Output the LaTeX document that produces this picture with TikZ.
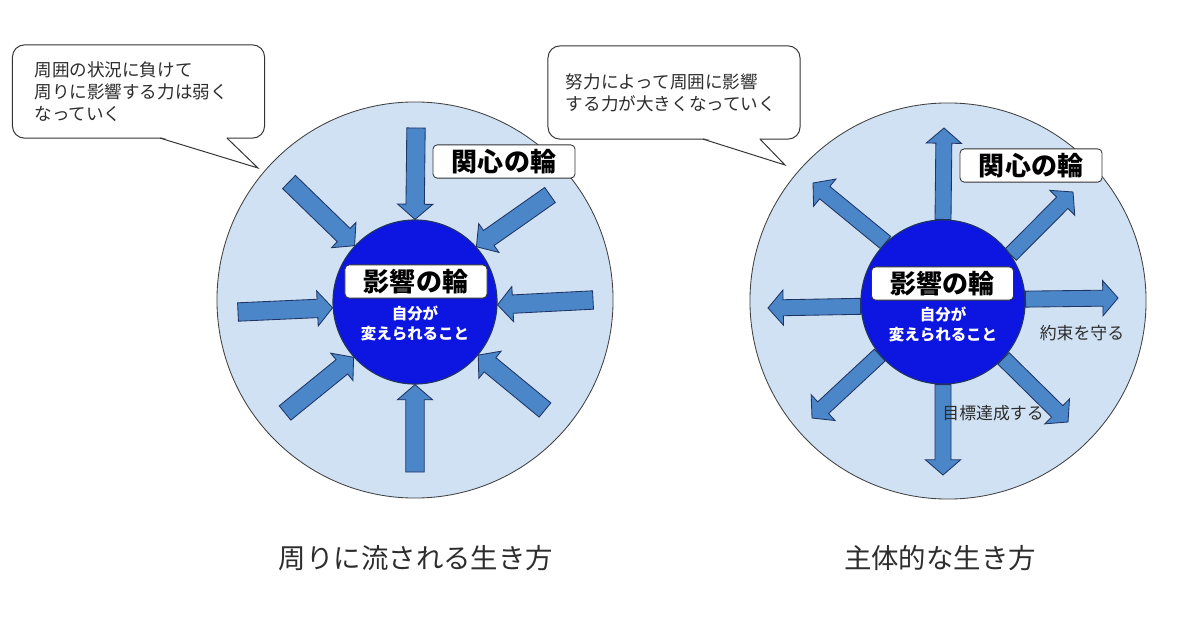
\documentclass[tikz,border=0pt]{standalone}
\usepackage{fontspec}
\setmainfont{Noto Sans CJK JP}
\usetikzlibrary{calc,positioning}

\definecolor{ringblue}{RGB}{207,225,243}
\definecolor{coreblue}{RGB}{12,22,224}
\definecolor{arrowblue}{RGB}{74,134,200}
\definecolor{arrowedge}{RGB}{32,52,100}
\definecolor{textgray}{RGB}{45,45,45}

\pgfdeclarelayer{back}
\pgfsetlayers{back,main}

% fat block arrow: [shaft half width]{tail}{tip}
\newcommand{\blockarrow}[3][0.23cm]{%
  \coordinate (hb) at ($(#3)!0.38cm!(#2)$);
  \draw[arrowbody] ($(#2)!#1!90:(#3)$) -- ($(hb)!#1!90:(#3)$) -- ($(hb)!0.44cm!90:(#3)$)
    -- (#3) -- ($(hb)!0.44cm!-90:(#3)$) -- ($(hb)!#1!-90:(#3)$) -- ($(#2)!#1!-90:(#3)$) -- cycle;}

\tikzset{
  ring/.style={circle, draw=black!75, fill=ringblue, line width=0.6pt, minimum size=9.9cm},
  core/.style={circle, draw=arrowedge, fill=coreblue, line width=0.8pt, minimum size=4.1cm},
  tag/.style={draw=black!80, fill=white, rounded corners=3pt, line width=0.6pt, minimum width=3.55cm,
    minimum height=0.83cm, inner sep=0pt, font=\fontsize{18.5}{20}\selectfont\bfseries},
  arrowbody/.style={draw=arrowedge, fill=arrowblue, line width=0.6pt, line join=miter},
  bubble/.style={draw=black!80, fill=white, rounded corners=0.3cm, line width=0.7pt, minimum height=2.33cm,
    align=left, font=\fontsize{12.5}{15.6}\selectfont, text=textgray},
  selftext/.style={align=center, text=white, font=\fontsize{11}{14.2}\selectfont\bfseries},
  note/.style={font=\fontsize{12}{14}\selectfont, text=textgray},
  title/.style={font=\fontsize{19.5}{22}\selectfont, text=textgray}
}

\begin{document}
\begin{tikzpicture}[x=0.025cm, y=-0.025cm]
\useasboundingbox (0,0) rectangle (1200,630);

\begin{pgfonlayer}{back}
\node[ring] (ringL) at (415,300) {};
\node[ring] (ringR) at (948,301) {};
\end{pgfonlayer}

\node[core] (infL) at (415,302) {};
\node[core] (infR) at (943,302) {};

% left: pushed in from outside
\coordinate (inA) at (416,128);
\coordinate (inB) at (550,195);
\coordinate (inC) at (593,300);
\coordinate (inD) at (545,410);
\coordinate (inE) at (415,472);
\coordinate (inF) at (285,413);
\coordinate (inG) at (238,312);
\coordinate (inH) at (289,182);
% right: reaching out
\coordinate (outA) at (944,128);
\coordinate (outB) at (1073,192);
\coordinate (outC) at (1118,298);
\coordinate (outD) at (1068,422);
\coordinate (outE) at (943,475);
\coordinate (outF) at (812,418);
\coordinate (outG) at (768,308);
\coordinate (outH) at (813,183);

\begin{pgfonlayer}{back}
\blockarrow{inA}{infL.90}
\blockarrow{inB}{infL.42}
\blockarrow{inC}{infL.-2}
\blockarrow{inD}{infL.-40}
\blockarrow{inE}{infL.-90}
\blockarrow{inF}{infL.-138}
\blockarrow{inG}{infL.184}
\blockarrow{inH}{infL.137}

\blockarrow[0.2cm]{infR.90}{outA}
\blockarrow[0.2cm]{infR.35}{outB}
\blockarrow[0.2cm]{infR.2}{outC}
\blockarrow[0.2cm]{infR.-43}{outD}
\blockarrow[0.2cm]{infR.-90}{outE}
\blockarrow[0.2cm]{infR.-140}{outF}
\blockarrow[0.2cm]{infR.183}{outG}
\blockarrow[0.2cm]{infR.134}{outH}
\end{pgfonlayer}

\node[tag] (circL) at (504,161.5) {関心の輪};
\node[tag] (circR) at (1031,165.5) {関心の輪};
\node[tag] (infLtag) at (416,281.5) {影響の輪};
\node[tag] (infRtag) at (942.5,283.5) {影響の輪};
\node[selftext] (selfL) at (415,323) {自分が\\変えられること};
\node[selftext] (selfR) at (943,324) {自分が\\変えられること};

\node[note] (promise) at (1082,333) {約束を守る};
\node[note] (goal) at (993,413) {目標達成する};

% speech bubbles
\node[bubble, text width=5.2cm, inner xsep=0.55cm] (saysL) at (138.5,91.5)
  {周囲の状況に負けて\\周りに影響する力は弱く\\なっていく};
\coordinate (tipL) at (258,168);
\fill[white] (161,137) -- (tipL) -- (226,137) -- cycle;
\draw[line width=0.7pt, black!80] (160,138.1) -- (tipL) -- (227,138.1);

\node[bubble, text width=5.4cm, inner xsep=0.45cm] (saysR) at (674,92.5)
  {努力によって周囲に影響\\する力が大きくなっていく};
\coordinate (tipR) at (785,165);
\fill[white] (704,138) -- (tipR) -- (759,138) -- cycle;
\draw[line width=0.7pt, black!80] (703,139.1) -- (tipR) -- (760,139.1);

\node[title] (titleL) at (416,558) {周りに流される生き方};
\node[title] (titleR) at (940,558) {主体的な生き方};
\end{tikzpicture}
\end{document}
